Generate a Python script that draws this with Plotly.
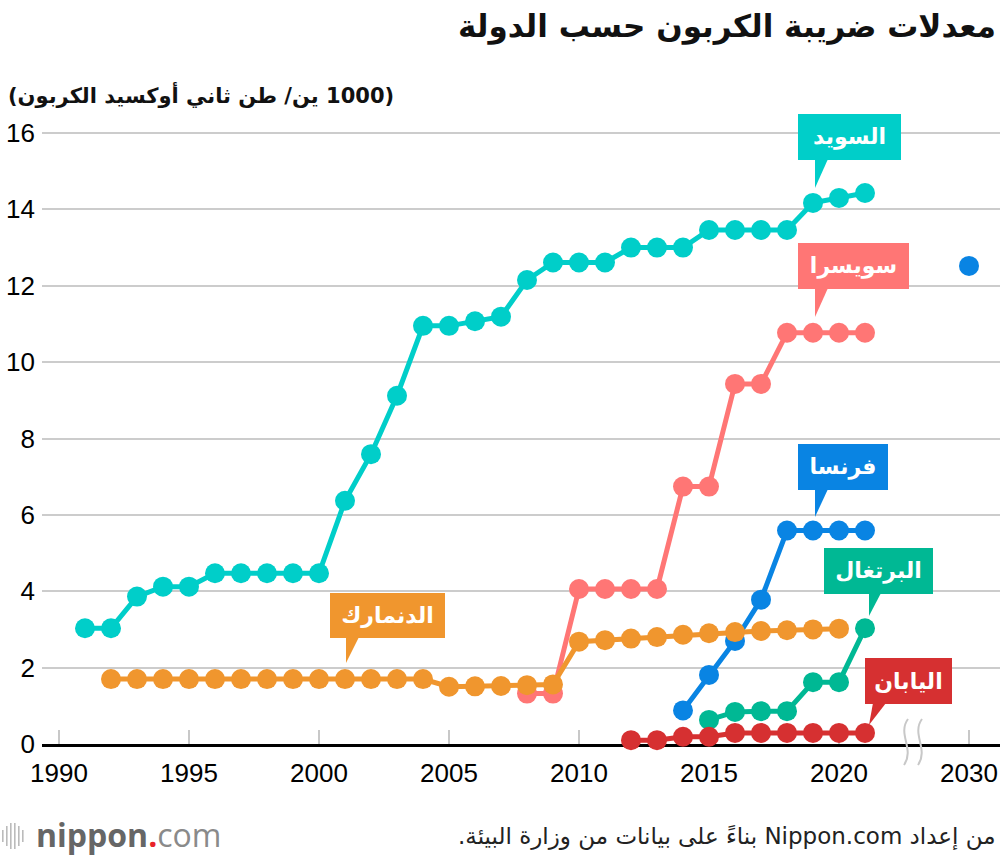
import plotly.graph_objects as go

# ---------------- data ----------------
sweden_years = list(range(1991, 2022))
sweden_vals = [3.03, 3.03, 3.86, 4.12, 4.12, 4.47, 4.47, 4.47, 4.47, 4.47,
               6.37, 7.59, 9.12, 10.95, 10.95, 11.07, 11.19, 12.15, 12.61, 12.61,
               12.61, 13.0, 13.0, 13.0, 13.46, 13.46, 13.46, 13.46, 14.17, 14.30, 14.43]

swiss_years = list(range(2008, 2022))
swiss_vals = [1.32, 1.32, 4.06, 4.06, 4.06, 4.06, 6.74, 6.74, 9.43, 9.43,
              10.77, 10.77, 10.77, 10.77]

france_years = list(range(2014, 2022))
france_vals = [0.88, 1.81, 2.70, 3.78, 5.59, 5.59, 5.59, 5.59]
france_target_year = [2030]
france_target_val = [12.52]

portugal_years = list(range(2015, 2022))
portugal_vals = [0.63, 0.84, 0.86, 0.86, 1.62, 1.62, 3.03]

japan_years = list(range(2012, 2022))
japan_vals = [0.10, 0.10, 0.19, 0.19, 0.29, 0.29, 0.29, 0.29, 0.29, 0.29]

denmark_years = list(range(1992, 2021))
denmark_vals = [1.70] * 13 + [1.50, 1.51, 1.52, 1.54, 1.56] + \
               [2.68, 2.72, 2.76, 2.80, 2.86, 2.90, 2.93, 2.96, 2.98, 3.00, 3.02]

x_tick_years = [1990, 1995, 2000, 2005, 2010, 2015, 2020, 2030]
y_ticks = [0, 2, 4, 6, 8, 10, 12, 14, 16]

names = {
    "sweden": "السويد",
    "swiss": "سويسرا",
    "france": "فرنسا",
    "portugal": "البرتغال",
    "japan": "اليابان",
    "denmark": "الدنمارك",
}
colors = {
    "sweden": "#00CEC9",
    "swiss": "#FF7675",
    "france": "#0984E3",
    "portugal": "#00B894",
    "japan": "#D63031",
    "denmark": "#F0962E",
}

title_text = "معدلات ضريبة الكربون حسب الدولة"
unit_text = "(1000 ين/ طن ثاني أوكسيد الكربون)"
source_text = "من إعداد Nippon.com بناءً على بيانات من وزارة البيئة."

# ---------------- geometry helpers ----------------
W, H = 1000, 856
L, R, T, B = 42, 1000, 120, 744
PX_PER_YEAR = 26.0
PX_PER_UNIT = (744 - 133) / 16.0
X0 = 1990 - (59 - L) / PX_PER_YEAR
X1 = X0 + (R - L) / PX_PER_YEAR
Y1 = (B - T) / PX_PER_UNIT


def xpos(year):
    # axis is broken after 2022: 2030 is drawn five years closer
    return year if year <= 2022 else year - 5


def ppx(px):
    return (px - L) / (R - L)


def ppy(py):
    return (B - py) / (B - T)


def rtl(s):
    return "\u202B" + s + "\u202C"


FONT_AR = "DejaVu Sans"
FONT_NUM = "Liberation Sans, Arial, sans-serif"

fig = go.Figure()

series = [
    ("sweden", sweden_years, sweden_vals),
    ("swiss", swiss_years, swiss_vals),
    ("france", france_years, france_vals),
    ("portugal", portugal_years, portugal_vals),
    ("japan", japan_years, japan_vals),
    ("denmark", denmark_years, denmark_vals),
]
for key, yrs, vals in series:
    fig.add_trace(go.Scatter(
        x=[xpos(y) for y in yrs], y=vals, mode="lines+markers",
        line=dict(color=colors[key], width=5),
        marker=dict(size=20, color=colors[key]),
        cliponaxis=False, hoverinfo="skip", name=names[key],
    ))

fig.add_trace(go.Scatter(
    x=[xpos(y) for y in france_target_year], y=france_target_val, mode="markers",
    marker=dict(size=20, color=colors["france"]),
    cliponaxis=False, hoverinfo="skip", showlegend=False,
))

# ---------------- callout labels (pixel layout) ----------------
callouts = [
    ("sweden", (798, 114, 901, 160), ((815, 159), (828, 159), (815, 188))),
    ("swiss", (798, 243, 909, 289), ((815, 288), (828, 288), (815, 317))),
    ("france", (798, 444, 888, 490), ((815, 489), (828, 489), (815, 517))),
    ("portugal", (824, 548, 933, 594), ((869, 593), (881, 593), (869, 616))),
    ("japan", (865, 658, 952, 704), ((873, 703), (886, 703), (869, 725))),
    ("denmark", (330, 593, 445, 638), ((346, 637), (359, 637), (346, 663))),
]

shapes = []
annotations = []
for key, (bl, bt, br, bb), tail in callouts:
    annotations.append(dict(
        x=ppx(bl), y=ppy(bt), xref="paper", yref="paper", xanchor="left", yanchor="top",
        text="<b>" + rtl(names[key]) + "</b>", showarrow=False, bgcolor=colors[key],
        width=br - bl, height=bb - bt, borderpad=0, borderwidth=0,
        font=dict(family=FONT_AR, size=22, color="white"), align="center", valign="middle",
    ))
    p = " L ".join(f"{ppx(a):.5f},{ppy(b):.5f}" for a, b in tail)
    shapes.append(dict(type="path", xref="paper", yref="paper", path=f"M {p} Z",
                       fillcolor=colors[key], line=dict(width=0)))

# axis break marks (paper coords so they are not clipped by the plot area)
for off in (0, 14):
    pts = [(908 + off, 719), (897 + off, 734), (915 + off, 749), (904 + off, 765)]
    (a0, b0), (a1, b1), (a2, b2), (a3, b3) = pts
    shapes.append(dict(
        type="path", xref="paper", yref="paper",
        path=(f"M {ppx(a0):.5f},{ppy(b0):.5f} C {ppx(a1):.5f},{ppy(b1):.5f} "
              f"{ppx(a2):.5f},{ppy(b2):.5f} {ppx(a3):.5f},{ppy(b3):.5f}"),
        line=dict(color="#C8C8C8", width=2), fillcolor="rgba(0,0,0,0)",
    ))

# nippon.com logo bars
bar_specs = [(2, 830, 842), (6, 826, 846), (10, 823, 849), (14, 823, 849), (18, 826, 846), (22, 830, 842)]
for bx, y0p, y1p in bar_specs:
    shapes.append(dict(type="rect", xref="paper", yref="paper",
                       x0=ppx(bx), x1=ppx(bx + 1.6), y0=ppy(y1p), y1=ppy(y0p),
                       fillcolor="#BBBBBB", line=dict(width=0)))

annotations += [
    dict(x=ppx(998), y=ppy(26), xref="paper", yref="paper", xanchor="right", yanchor="middle",
         text="<b>" + rtl(title_text) + "</b>", showarrow=False,
         font=dict(family=FONT_AR, size=31, color="#111111")),
    dict(x=ppx(6), y=ppy(95), xref="paper", yref="paper", xanchor="left", yanchor="middle",
         text="<b>" + rtl(unit_text) + "</b>", showarrow=False,
         font=dict(family=FONT_AR, size=21, color="#111111")),
    dict(x=ppx(998), y=ppy(836), xref="paper", yref="paper", xanchor="right", yanchor="middle",
         text=rtl(source_text), showarrow=False,
         font=dict(family=FONT_AR, size=23, color="#222222")),
    dict(x=ppx(34), y=ppy(834), xref="paper", yref="paper", xanchor="left", yanchor="middle",
         text="<b>nippon</b><span style='color:#E8222A'><b>.</b></span><span style='color:#8A8A8A'>com</span>",
         showarrow=False, font=dict(family="Open Sans", size=32, color="#666666")),
]

fig.update_layout(
    width=W, height=H,
    margin=dict(l=L, r=W - R, t=T, b=H - B),
    paper_bgcolor="white", plot_bgcolor="white",
    showlegend=False,
    shapes=shapes, annotations=annotations,
    xaxis=dict(
        range=[X0, X1], tickvals=[xpos(y) for y in x_tick_years],
        ticktext=[str(y) for y in x_tick_years],
        showgrid=False, zeroline=False,
        showline=True, linecolor="black", linewidth=3,
        ticks="inside", ticklen=14, tickwidth=2, tickcolor="#C8C8C8",
        tickfont=dict(family=FONT_NUM, size=26, color="black"),
        ticklabelstandoff=4, ticklabeloverflow="allow",
        layer="below traces", fixedrange=True,
    ),
    yaxis=dict(
        range=[0, Y1], tickvals=y_ticks, ticktext=[str(v) for v in y_ticks],
        showgrid=True, gridcolor="#CCCCCC", gridwidth=2, zeroline=False,
        showline=False, ticks="",
        tickfont=dict(family=FONT_NUM, size=26, color="black"),
        ticklabelstandoff=6, layer="below traces", fixedrange=True,
    ),
)

fig.write_html("out.html", config={"displayModeBar": False},
               post_script="document.body.style.margin='0';")
